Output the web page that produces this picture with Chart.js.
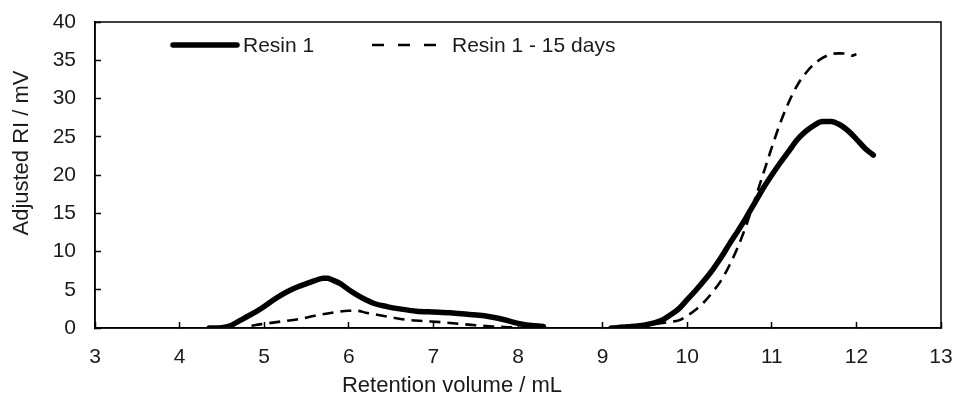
<!DOCTYPE html>
<html>
<head>
<meta charset="utf-8">
<script src="https://cdn.jsdelivr.net/npm/chart.js@4/dist/chart.umd.min.js"></script>
<style>
  html, body { margin: 0; padding: 0; background: #fff; }
  #wrap { width: 960px; height: 397px; }
</style>
</head>
<body>
<div id="wrap"><canvas id="c" width="960" height="397"></canvas></div>
<script>
// ---- data ----
const seriesNames = ["Resin 1", "Resin 1 - 15 days"];

const resinX = [4.35, 4.5, 4.6, 4.7, 4.8, 4.9, 5.0, 5.1, 5.2, 5.3, 5.4, 5.5, 5.6, 5.7, 5.75, 5.8, 5.9, 6.0, 6.1, 6.2, 6.3, 6.45, 6.6, 6.8, 7.0, 7.2, 7.4, 7.6, 7.75, 7.9, 8.0, 8.1, 8.2, 8.3,
                8.7,
                9.1, 9.3, 9.5, 9.7, 9.8, 9.9, 10.0, 10.1, 10.2, 10.3, 10.4, 10.5, 10.6, 10.7, 10.8, 10.9, 11.0, 11.1, 11.2, 11.3, 11.4, 11.5, 11.6, 11.7, 11.8, 11.9, 12.0, 12.1, 12.2];
const resinY = [0, 0.05, 0.3, 0.9, 1.5, 2.1, 2.8, 3.6, 4.3, 4.9, 5.4, 5.8, 6.2, 6.5, 6.5, 6.3, 5.8, 5.0, 4.3, 3.7, 3.2, 2.8, 2.5, 2.2, 2.1, 2.0, 1.8, 1.6, 1.3, 0.9, 0.6, 0.4, 0.3, 0.2,
                null,
                0, 0.15, 0.4, 1.0, 1.7, 2.5, 3.7, 4.9, 6.2, 7.6, 9.2, 11.0, 12.7, 14.5, 16.4, 18.3, 20.0, 21.6, 23.1, 24.6, 25.7, 26.5, 27.0, 27.0, 26.6, 25.8, 24.7, 23.5, 22.6];

const agedX = [4.85, 4.9, 5.0, 5.2, 5.4, 5.6, 5.8, 6.0, 6.1, 6.2, 6.3, 6.5, 6.7, 6.9, 7.1, 7.3, 7.5, 7.7, 7.9, 8.0,
               8.6,
               9.2, 9.4, 9.6, 9.8, 9.9, 10.0, 10.1, 10.2, 10.3, 10.4, 10.5, 10.6, 10.7, 10.8, 10.9, 11.0, 11.1, 11.2, 11.3, 11.4, 11.5, 11.6, 11.7, 11.8, 11.9, 11.95, 12.0];
const agedY = [0.3, 0.4, 0.55, 0.85, 1.15, 1.6, 2.0, 2.25, 2.25, 2.0, 1.8, 1.4, 1.05, 0.9, 0.75, 0.55, 0.35, 0.2, 0.1, 0.05,
               null,
               0, 0.2, 0.5, 0.8, 1.0, 1.6, 2.4, 3.4, 4.7, 6.2, 8.2, 10.6, 13.5, 16.8, 20.2, 23.6, 26.8, 29.5, 31.7, 33.3, 34.5, 35.3, 35.8, 35.9, 35.8, 35.6, 35.8];

const xTickValues = [3, 4, 5, 6, 7, 8, 9, 10, 11, 12, 13];
const yTickValues = [0, 5, 10, 15, 20, 25, 30, 35, 40];
const xTitle = "Retention volume / mL";
const yTitle = "Adjusted RI / mV";

// ---- build ----
const toPts = (xs, ys) => xs.map((x, i) => ({ x: x, y: ys[i] }));
const FONT = "'Liberation Sans', Arial, sans-serif";
const TEXT = '#1a1a1a';

const legendLayout = [
  { x0: 173, x1: 237, tx: 243, dash: [] },
  { x0: 372, x1: 443, tx: 452, dash: [12, 14] }
];

const zeroPad = (s) => { s.paddingTop = 0; s.paddingBottom = 0; s.paddingLeft = 0; s.paddingRight = 0; };

const decorPlugin = {
  id: 'decor',
  afterDraw(chart) {
    const ctx = chart.ctx;
    const a = chart.chartArea;
    ctx.save();
    // frame
    ctx.strokeStyle = '#000';
    ctx.lineWidth = 1.5;
    ctx.setLineDash([]);
    ctx.strokeRect(a.left, a.top, a.right - a.left, a.bottom - a.top);
    // axis titles
    ctx.fillStyle = TEXT;
    ctx.font = "22px " + FONT;
    ctx.textAlign = 'center';
    ctx.textBaseline = 'middle';
    ctx.fillText(xTitle, 452, 386);
    ctx.save();
    ctx.translate(22, 153);
    ctx.rotate(-Math.PI / 2);
    ctx.fillText(yTitle, 0, 0);
    ctx.restore();
    // legend
    const ly = a.top + 23;
    chart.data.datasets.forEach((ds, i) => {
      const L = legendLayout[i];
      ctx.beginPath();
      ctx.strokeStyle = ds.borderColor;
      ctx.lineWidth = ds.borderWidth;
      ctx.lineCap = ds.borderCapStyle || 'butt';
      ctx.setLineDash(L.dash);
      ctx.moveTo(L.x0, ly);
      ctx.lineTo(L.x1, ly);
      ctx.stroke();
      ctx.setLineDash([]);
      ctx.fillStyle = TEXT;
      ctx.font = "21px " + FONT;
      ctx.textAlign = 'left';
      ctx.textBaseline = 'middle';
      ctx.fillText(ds.label, L.tx, ly + 1);
    });
    ctx.restore();
  }
};

new Chart(document.getElementById('c'), {
  type: 'line',
  data: {
    datasets: [
      {
        label: seriesNames[0],
        data: toPts(resinX, resinY),
        borderColor: '#000',
        borderWidth: 5.5,
        borderCapStyle: 'round',
        borderJoinStyle: 'round',
        pointRadius: 0,
        fill: false,
        spanGaps: false,
        cubicInterpolationMode: 'monotone'
      },
      {
        label: seriesNames[1],
        data: toPts(agedX, agedY),
        borderColor: '#000',
        borderWidth: 2.6,
        borderDash: [11, 7],
        pointRadius: 0,
        fill: false,
        spanGaps: false,
        cubicInterpolationMode: 'monotone'
      }
    ]
  },
  options: {
    responsive: false,
    animation: false,
    layout: { padding: { top: 22, right: 19, left: 0, bottom: 0 } },
    plugins: {
      legend: { display: false },
      tooltip: { enabled: false }
    },
    scales: {
      x: {
        type: 'linear',
        min: 3, max: 13,
        afterFit: (s) => { s.height = 69; zeroPad(s); },
        afterBuildTicks: (s) => { s.ticks = xTickValues.map(v => ({ value: v })); },
        grid: { drawOnChartArea: false, drawTicks: true, tickLength: -6, tickColor: '#000', tickWidth: 1.5 },
        border: { display: true, color: '#000', width: 1.5 },
        ticks: { color: TEXT, font: { family: FONT, size: 21 }, padding: 23, maxRotation: 0 }
      },
      y: {
        type: 'linear',
        min: 0, max: 40,
        afterFit: (s) => { s.width = 95; zeroPad(s); },
        afterBuildTicks: (s) => { s.ticks = yTickValues.map(v => ({ value: v })); },
        grid: { drawOnChartArea: false, drawTicks: true, tickLength: -6, tickColor: '#000', tickWidth: 1.5 },
        border: { display: true, color: '#000', width: 1.5 },
        ticks: { color: TEXT, font: { family: FONT, size: 21 }, padding: 25 }
      }
    }
  },
  plugins: [decorPlugin]
});
</script>
</body>
</html>
